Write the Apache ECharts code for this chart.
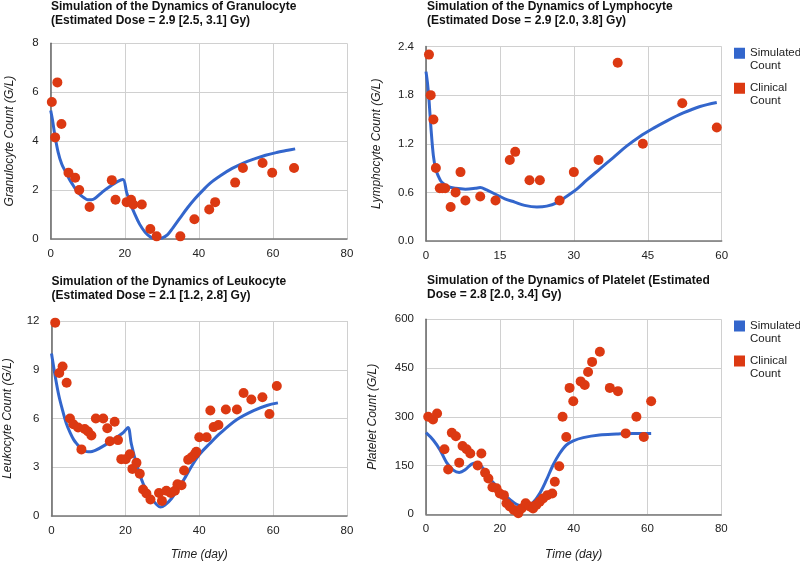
<!DOCTYPE html>
<html><head><meta charset="utf-8">
<script src="https://cdn.jsdelivr.net/npm/echarts@6/dist/echarts.min.js"></script>
<style>html,body{margin:0;padding:0;background:#fff}#c{width:800px;height:563px}</style>
</head><body><div id="c"></div>
<script>
// ---------- Granulocyte ----------
const granSimT = [0, 0.5, 1, 2, 3, 4, 5, 6, 7, 8, 9, 10, 11, 12, 14, 16, 18, 19.5, 20.5, 21.5, 22.5, 24, 25.5, 27, 28.5, 30, 31.5, 33, 35, 37, 39, 41, 43, 46, 49, 52, 55, 58, 61, 64, 66];
const granSimV = [5.25, 4.85, 4.35, 3.55, 3.05, 2.75, 2.45, 2.2, 1.97, 1.8, 1.68, 1.6, 1.6, 1.66, 1.92, 2.14, 2.34, 2.43, 1.9, 1.45, 1.08, 0.6, 0.27, 0.07, 0.0, 0.03, 0.16, 0.45, 0.87, 1.28, 1.65, 1.97, 2.27, 2.6, 2.88, 3.1, 3.27, 3.42, 3.53, 3.62, 3.68];
const granObsT = [0.3, 1.2, 1.8, 2.9, 4.8, 6.6, 7.7, 10.5, 16.5, 17.5, 20.5, 21.7, 22.3, 24.6, 26.9, 28.6, 35, 38.8, 42.8, 44.4, 49.8, 51.9, 57.2, 59.8, 65.7];
const granObsV = [5.6, 4.15, 6.4, 4.7, 2.7, 2.5, 2.0, 1.3, 2.4, 1.6, 1.5, 1.6, 1.4, 1.4, 0.4, 0.1, 0.1, 0.8, 1.2, 1.5, 2.3, 2.9, 3.1, 2.7, 2.9];

// ---------- Lymphocyte ----------
const lymSimT = [0, 0.3, 0.6, 1, 1.5, 2, 2.5, 3, 3.5, 4.5, 6, 8, 10, 11, 12.3, 14, 16, 18, 20, 22.5, 24.5, 26.5, 28.5, 30.6, 32.6, 35.3, 38, 40.7, 43.4, 46.1, 48.8, 52.2, 55.6, 59];
const lymSimV = [2.09, 1.95, 1.75, 1.4, 1.05, 0.88, 0.8, 0.74, 0.71, 0.67, 0.65, 0.64, 0.65, 0.66, 0.63, 0.58, 0.52, 0.48, 0.44, 0.42, 0.43, 0.47, 0.55, 0.64, 0.75, 0.89, 1.03, 1.17, 1.29, 1.39, 1.48, 1.58, 1.66, 1.71];
const lymObsT = [0.6, 0.95, 1.5, 2, 2.8, 3.3, 3.9, 5, 6, 7, 8, 11, 14.1, 17, 18.1, 21, 23.1, 27.1, 30, 35, 38.9, 44, 52, 59];
const lymObsV = [2.3, 1.8, 1.5, 0.9, 0.65, 0.65, 0.65, 0.42, 0.6, 0.85, 0.5, 0.55, 0.5, 1.0, 1.1, 0.75, 0.75, 0.5, 0.85, 1.0, 2.2, 1.2, 1.7, 1.4];

// ---------- Leukocyte ----------
const leuSimT = [0, 0.5, 1, 2, 3, 4, 5, 6, 7, 8, 9, 10, 11, 12, 14, 16, 18, 19.5, 20.7, 21.6, 23, 24.8, 26.6, 28.4, 29.5, 30.7, 32.5, 34.7, 36.5, 38.3, 40.1, 42.8, 45.7, 50.2, 54.7, 58.3, 61.3];
const leuSimV = [10.0, 9.3, 8.6, 7.4, 6.5, 5.7, 5.15, 4.7, 4.4, 4.15, 4.0, 3.95, 3.97, 4.05, 4.3, 4.6, 4.9, 5.15, 5.45, 4.45, 3.2, 2.0, 1.2, 0.72, 0.55, 0.67, 1.08, 1.8, 2.5, 3.2, 3.8, 4.45, 5.1, 5.94, 6.49, 6.8, 6.96];
const leuObsT = [1, 2.1, 3, 4.1, 5, 5.9, 7.2, 8.1, 9, 9.9, 10.8, 12, 14, 15.1, 15.8, 17.1, 18, 18.9, 20.1, 21.2, 21.9, 23, 23.9, 24.8, 25.7, 26.8, 29.1, 29.9, 31.1, 32.3, 33.4, 34.1, 35.2, 35.9, 37, 37.9, 38.8, 39.2, 40, 42, 43, 43.9, 45.2, 47.2, 50.2, 52, 54.1, 57.1, 59, 61];
const leuObsV = [11.9, 8.8, 9.2, 8.2, 6.0, 5.65, 5.45, 4.1, 5.35, 5.2, 4.95, 6.0, 6.0, 5.4, 4.6, 5.8, 4.67, 3.5, 3.5, 3.8, 2.9, 3.27, 2.6, 1.63, 1.38, 1.02, 1.42, 0.93, 1.55, 1.42, 1.55, 1.95, 1.89, 2.8, 3.46, 3.62, 3.82, 3.95, 4.85, 4.85, 6.49, 5.47, 5.6, 6.55, 6.55, 7.57, 7.17, 7.31, 6.28, 8.0];

// ---------- Platelet ----------
const pltSimT = [0, 2, 3.8, 5.6, 7.4, 9, 10.5, 12.4, 13.7, 15.5, 17.3, 19.1, 20.9, 22.7, 24.5, 26.3, 27.7, 29, 30.8, 32.6, 34.4, 36.2, 38, 39.9, 42.6, 47, 51.6, 56.1, 61];
const pltSimV = [251, 228, 198, 159, 136, 129, 136, 155, 159, 141, 110, 87, 64, 46, 31, 24, 26, 36, 64, 105, 151, 187, 213, 226, 236, 244, 247, 249, 249];
const pltObsT = [0.6, 1.9, 3, 5, 6, 7, 8.1, 9, 9.9, 11, 12, 14, 15, 16, 16.9, 18, 19.1, 20, 21.1, 21.8, 22.7, 23.8, 25, 25.9, 27, 28.1, 29, 29.9, 30.8, 31.7, 32.9, 34.2, 34.9, 36.1, 37, 38, 38.9, 39.9, 41.9, 43, 43.9, 45, 47.1, 49.8, 52, 54.1, 57, 59, 61];
const pltObsV = [300, 292, 310, 200, 138, 251, 240, 159, 210, 200, 187, 150, 187, 128, 110, 83, 80, 64, 59, 34, 24, 13, 3, 18, 34, 24, 18, 29, 39, 49, 59, 64, 100, 148, 300, 238, 389, 348, 409, 398, 438, 469, 500, 389, 379, 249, 300, 238, 348];

const titles = [
  'Simulation of the Dynamics of Granulocyte\n(Estimated Dose = 2.9 [2.5, 3.1] Gy)',
  'Simulation of the Dynamics of Lymphocyte\n(Estimated Dose = 2.9 [2.0, 3.8] Gy)',
  'Simulation of the Dynamics of Leukocyte\n(Estimated Dose = 2.1 [1.2, 2.8] Gy)',
  'Simulation of the Dynamics of Platelet (Estimated\nDose = 2.8 [2.0, 3.4] Gy)'
];
const yNames = ['Granulocyte Count (G/L)', 'Lymphocyte Count (G/L)', 'Leukocyte Count (G/L)', 'Platelet Count (G/L)'];
const xMax = [80, 60, 80, 80];
const xInterval = [20, 15, 20, 20];
const yMax = [8, 2.4, 12, 600];
const yInterval = [2, 0.6, 3, 150];
const xName = ['', '', 'Time (day)', 'Time (day)'];

const simSets = [[granSimT, granSimV], [lymSimT, lymSimV], [leuSimT, leuSimV], [pltSimT, pltSimV]];
const obsSets = [[granObsT, granObsV], [lymObsT, lymObsV], [leuObsT, leuObsV], [pltObsT, pltObsV]];

function pairs(t, v) { return t.map((x, i) => [x, v[i]]); }

const FONT = '"Liberation Sans", Arial, sans-serif';
const grids = [
  {left: 50.7, top: 43.3, width: 296.3, height: 195.5},
  {left: 426, top: 46.5, width: 295.7, height: 194.5},
  {left: 51.5, top: 321, width: 295.5, height: 195},
  {left: 426, top: 319.3, width: 295.3, height: 195}
];
const titlePos = [[51, 0], [427, 0], [51.5, 275], [427, 274]];
const yNameGap = [35, 43, 38, 47];
const xNameGap = [30, 30, 33, 34];

const series = [];
const xAxes = [], yAxes = [];
for (let i = 0; i < 4; i++) {
  xAxes.push({
    type: 'value', gridIndex: i, min: 0, max: xMax[i], interval: xInterval[i],
    name: xName[i], nameLocation: 'middle', nameGap: xNameGap[i],
    nameTextStyle: {fontFamily: FONT, fontStyle: 'italic', fontSize: 12, color: '#222'},
    axisLine: {show: true, lineStyle: {color: '#777', width: 1.5}},
    axisTick: {show: false},
    axisLabel: {fontFamily: FONT, fontSize: 11.5, color: '#222', margin: 9},
    splitLine: {show: true, lineStyle: {color: '#d0d0d0', width: 1}}
  });
  yAxes.push({
    type: 'value', gridIndex: i, min: 0, max: yMax[i], interval: yInterval[i],
    name: yNames[i], nameLocation: 'middle', nameGap: yNameGap[i],
    nameTextStyle: {fontFamily: FONT, fontStyle: 'italic', fontSize: 12, color: '#222'},
    axisLine: {show: true, lineStyle: {color: '#666', width: 1.5}},
    axisTick: {show: false},
    axisLabel: {fontFamily: FONT, fontSize: 11.5, color: '#222', margin: 12,
      formatter: i === 1 ? (v => v.toFixed(1)) : (v => String(v))},
    splitLine: {show: true, lineStyle: {color: '#d0d0d0', width: 1}}
  });
  series.push({
    type: 'line', name: 'Simulated Count', xAxisIndex: i, yAxisIndex: i,
    data: pairs(simSets[i][0], simSets[i][1]),
    smooth: 0.35, symbol: 'none', showSymbol: false,
    lineStyle: {color: '#3366cc', width: 3}, itemStyle: {color: '#3366cc'}, z: 2
  });
  series.push({
    type: 'scatter', name: 'Clinical Count', xAxisIndex: i, yAxisIndex: i,
    data: pairs(obsSets[i][0], obsSets[i][1]),
    symbolSize: 10, itemStyle: {color: '#dc3912', opacity: 1}, z: 3
  });
}

const legendIcon = 'path://M0,0H11V11H0Z M0,24H0.01V24.01H0Z';
function mkLegend(top) {
  return {
    orient: 'vertical', left: 734, top: top, padding: 0, itemGap: 9,
    itemWidth: 11, itemHeight: 24, selectedMode: false,
    data: [{name: 'Simulated Count', icon: legendIcon}, {name: 'Clinical Count', icon: legendIcon}],
    itemStyle: {borderWidth: 0},
    formatter: n => n.replace(' ', '\n'),
    textStyle: {fontFamily: FONT, fontSize: 11.5, color: '#222', lineHeight: 13}
  };
}

const option = {
  animation: false,
  backgroundColor: '#fff',
  title: titles.map((t, i) => ({
    text: t, left: titlePos[i][0], top: titlePos[i][1], padding: 0,
    textStyle: {fontFamily: FONT, fontSize: 12, fontWeight: 'bold', color: '#111', lineHeight: 13.5}
  })),
  legend: [mkLegend(46.7), mkLegend(319.5)],
  grid: grids,
  xAxis: xAxes,
  yAxis: yAxes,
  series: series
};
const chart = echarts.init(document.getElementById('c'), null, {renderer: 'canvas'});
chart.setOption(option);
</script>
</body></html>
